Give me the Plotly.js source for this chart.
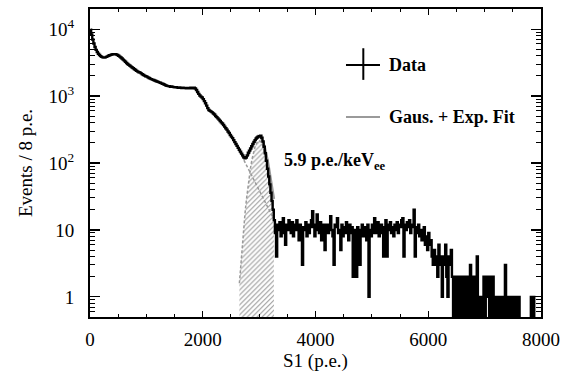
<!DOCTYPE html>
<html>
<head>
<meta charset="utf-8">
<script src="https://cdn.plot.ly/plotly-3.0.1.min.js"></script>
<style>html,body{margin:0;padding:0;background:#fff;}#chart{width:567px;height:372px;}</style>
</head>
<body>
<div id="chart"></div>
<script>
// Histogram: bin width (p.e.) and first bin edge
const BIN_START = 0;
const BIN_WIDTH = 20;
// counts per bin (0 - 3260 p.e.), smooth part of spectrum
const countsLow = [
  9800, 8300, 7000, 6100, 5400, 4900, 4550, 4300, 4100, 3950,
  3850, 3780, 3760, 3790, 3850, 3920, 4000, 4070, 4130, 4180,
  4220, 4240, 4220, 4170, 4100, 4000, 3890, 3770, 3640, 3510,
  3380, 3250, 3120, 3020, 2930, 2840, 2750, 2670, 2600, 2520,
  2450, 2380, 2320, 2270, 2240, 2180, 2120, 2070, 2020, 1980,
  1950, 1900, 1860, 1820, 1790, 1760, 1740, 1710, 1680, 1650,
  1630, 1600, 1580, 1550, 1530, 1500, 1470, 1440, 1420, 1410,
  1400, 1380, 1390, 1370, 1360, 1350, 1360, 1340, 1330, 1345,
  1330, 1320, 1335, 1315, 1325, 1310, 1320, 1305, 1315, 1330,
  1310, 1320, 1335, 1300, 1230, 1150, 1080, 1020, 980, 950,
  900, 840, 780, 720, 660, 620, 600, 585, 570, 550,
  530, 505, 485, 465, 445, 425, 405, 390, 370, 350,
  330, 315, 295, 280, 262, 248, 235, 220, 205, 192,
  180, 168, 158, 148, 138, 130, 122, 118, 121, 130,
  142, 153, 165, 178, 192, 207, 220, 232, 241, 248,
  252, 255, 238, 210, 175, 140, 108, 82, 63, 48,
  36, 27, 20
];
// counts per bin (3260 - 8000 p.e.), flat noisy tail; 0 = empty bin
const countsHigh = [
  14, 9, 4, 12, 10,   13, 8, 11, 15, 9,   6, 12, 10, 14, 11,   9, 13, 8, 12, 10,
  14, 11, 7, 12, 9,   3, 11, 10, 13, 8,   12, 9, 11, 14, 19,   11, 8, 12, 17, 10,
  9, 13, 7, 11, 12,   5, 10, 12, 9, 11,   16, 10, 8, 3, 12,    11, 15, 9, 10, 5,
  12, 8, 11, 9, 13,   10, 7, 12, 9, 11,   2, 10, 8, 2, 11,     9, 3, 10, 12, 8,
  11, 9, 7, 12, 1,    10, 8, 12, 9, 15,   11, 9, 13, 8, 10,    12, 9, 4, 11, 14,
  4, 10, 12, 13, 9,   11, 8, 12, 10, 13,  9, 12, 11, 14, 15,   4, 12, 10, 13, 11,
  14, 9, 12, 11, 20,  4, 11, 9, 12, 8,    10, 7, 9, 11, 6,     8, 5, 9, 6, 7,
  4, 3, 5, 3, 4,      2, 6, 3, 4, 1,      3, 4, 6, 2, 1,       4, 3, 5, 2, 0,
  2, 0, 1, 2, 0,      2, 1, 0, 2, 0,      1, 2, 0, 1, 3,       0, 2, 1, 0, 2,
  4, 0, 1, 0, 1,      0, 2, 0, 2, 1,      2, 0, 2, 0, 2,       1, 0, 1, 0, 1,
  0, 1, 1, 0, 1,      3, 0, 1, 0, 1,      1, 0, 1, 1, 0,       1, 0, 1, 0, 0,
  0, 0, 0, 0, 0,      0, 0, 0, 1, 0,      1, 0, 0, 0, 0,       0, 0
];
// Fit curves (Gaussian + exponential) sampled in S1 (p.e.)
const fitX = [2650, 2675, 2700, 2725, 2750, 2775, 2800, 2825, 2850, 2875, 2900, 2925, 2950,
              2975, 3000, 3025, 3050, 3075, 3100, 3125, 3150, 3175, 3200, 3225, 3250, 3262];
const fitTotal = [152, 139, 130, 123, 120, 122, 128, 140, 157, 179, 202, 224, 242,
                  253, 254, 245, 227, 201, 171, 140, 110, 83, 62, 45, 33, 29];
const fitGaus = [1.6, 3.2, 6.0, 10.6, 17.8, 28.6, 43.7, 63.4, 87.7, 115, 144, 172, 195,
                 210, 215, 210, 195, 172, 144, 115, 88, 63, 44, 29, 18, 15];
const fitExp = [150, 136, 124, 112.6, 102.3, 93, 84.4, 76.7, 69.7, 63.3, 57.5, 52.3, 47.5,
                43.1, 39.2, 35.6, 32.3, 29.4, 26.7, 24.2, 22.0, 20.0, 18.2, 16.5, 15.0, 14.4];

// Axis ticks
const xTickVals = [0, 2000, 4000, 6000, 8000];
const xTickText = ['0', '2000', '4000', '6000', '8000'];
const yTickVals = [1, 10, 100, 1000, 10000];
const yTickText = ['1', '10', '10<sup>2</sup>', '10<sup>3</sup>', '10<sup>4</sup>'];
const yMinorVals = [0.5, 0.6, 0.7, 0.8, 0.9, 2, 3, 4, 5, 6, 7, 8, 9, 20, 30, 40, 50, 60, 70, 80, 90,
                    200, 300, 400, 500, 600, 700, 800, 900, 2000, 3000, 4000, 5000, 6000, 7000, 8000, 9000, 20000];

const counts = countsLow.concat(countsHigh);
const FLOOR = 0.01; // empty bins drawn down below the axis on the log scale
const binX = counts.map((c, i) => BIN_START + (i + 0.5) * BIN_WIDTH);
const binY = counts.map(c => c > 0 ? c : FLOOR);

const hatchX = [fitX[0]].concat(fitX, [fitX[fitX.length - 1]]);
const hatchY = [FLOOR].concat(fitGaus, [FLOOR]);

const GRAY = '#9a9a9a';
const traces = [
  {x: hatchX, y: hatchY, mode: 'lines', fill: 'toself', line: {width: 0},
   fillcolor: 'rgba(0,0,0,0)',
   fillpattern: {shape: '/', fgcolor: '#999999', bgcolor: '#ffffff', size: 3.5, solidity: 0.3},
   hoverinfo: 'skip'},
  {x: fitX, y: fitGaus, mode: 'lines', line: {color: GRAY, width: 1.5, dash: '3px,2px'}},
  {x: fitX, y: fitExp, mode: 'lines', line: {color: GRAY, width: 1.5, dash: '3px,2px'}},
  {x: fitX, y: fitTotal, mode: 'lines', line: {color: GRAY, width: 2.5}},
  {x: binX, y: binY, mode: 'lines', line: {color: '#000', width: 2.4, shape: 'hvh'}}
];

const FONT = 'Liberation Serif, Times New Roman, serif';
const layout = {
  width: 567, height: 372,
  margin: {l: 90, r: 26, t: 9, b: 55},
  paper_bgcolor: '#fff', plot_bgcolor: '#fff',
  showlegend: false,
  font: {family: FONT, size: 19, color: '#000'},
  xaxis: {
    range: [0, 8000], tickmode: 'array', tickvals: xTickVals, ticktext: xTickText,
    ticks: 'inside', ticklen: 6, tickwidth: 1.2, tickcolor: '#000',
    minor: {ticks: 'inside', dtick: 500, tick0: 0, ticklen: 3, tickwidth: 1, tickcolor: '#000', showgrid: false},
    showline: true, linewidth: 2, linecolor: '#000', mirror: 'allticks',
    showgrid: false, zeroline: false, ticklabelstandoff: 4,
    title: {text: 'S1 (p.e.)', font: {family: FONT, size: 19}, standoff: 10}
  },
  yaxis: {
    type: 'log', range: [Math.log10(0.5), Math.log10(20000)],
    tickmode: 'array', tickvals: yTickVals, ticktext: yTickText,
    ticks: 'inside', ticklen: 10, tickwidth: 1.2, tickcolor: '#000',
    minor: {ticks: 'inside', tickvals: yMinorVals, ticklen: 5, tickwidth: 1, tickcolor: '#000', showgrid: false},
    showline: true, linewidth: 2, linecolor: '#000', mirror: 'allticks',
    showgrid: false, zeroline: false, ticklabelstandoff: 10,
    title: {text: 'Events / 8 p.e.', font: {family: FONT, size: 19}, standoff: 11}
  },
  shapes: [
    {type: 'line', xref: 'paper', yref: 'paper', x0: 0.5676, x1: 0.6430, y0: 0.8185, y1: 0.8185, line: {color: '#000', width: 2}},
    {type: 'line', xref: 'paper', yref: 'paper', x0: 0.6060, x1: 0.6060, y0: 0.7699, y1: 0.8726, line: {color: '#000', width: 2}},
    {type: 'line', xref: 'paper', yref: 'paper', x0: 0.5676, x1: 0.6430, y0: 0.6490, y1: 0.6490, line: {color: GRAY, width: 2}}
  ],
  annotations: [
    {xref: 'paper', yref: 'paper', x: 0.6592, y: 0.8185, xanchor: 'left', yanchor: 'middle', showarrow: false,
     text: '<b>Data</b>', font: {family: FONT, size: 18, color: '#000'}},
    {xref: 'paper', yref: 'paper', x: 0.6592, y: 0.6490, xanchor: 'left', yanchor: 'middle', showarrow: false,
     text: '<b>Gaus. + Exp. Fit</b>', font: {family: FONT, size: 18, color: '#000'}},
    {xref: 'paper', yref: 'paper', x: 0.4264, y: 0.505, xanchor: 'left', yanchor: 'middle', showarrow: false,
     text: '<b>5.9 p.e./keV<sub>ee</sub></b>', font: {family: FONT, size: 18, color: '#000'}}
  ]
};

Plotly.newPlot('chart', traces, layout, {staticPlot: true, displayModeBar: false});
</script>
</body>
</html>
